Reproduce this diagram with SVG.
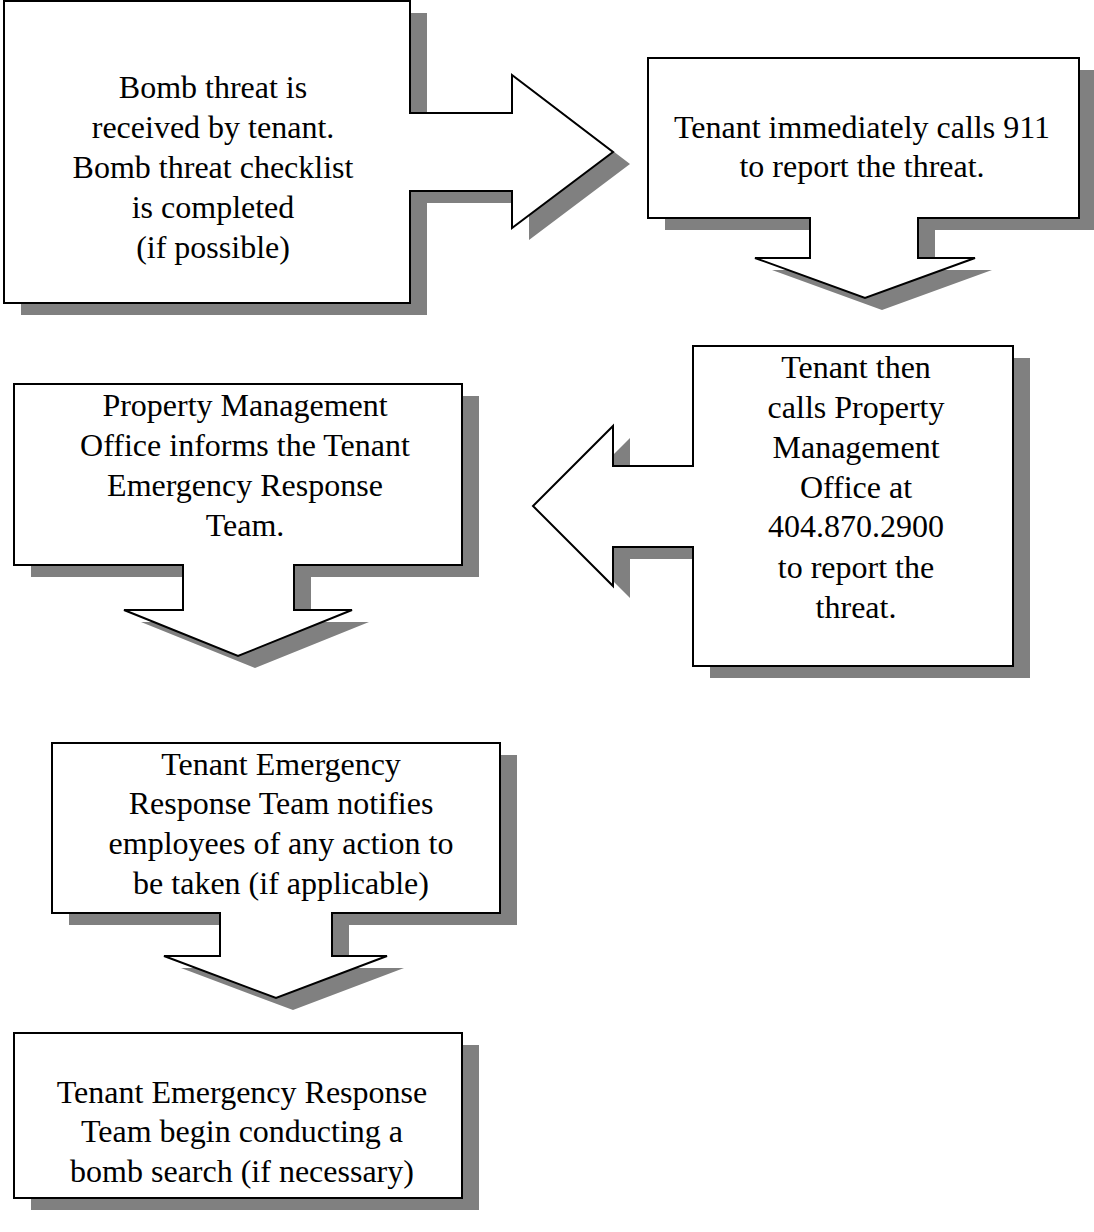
<svg xmlns="http://www.w3.org/2000/svg" width="1094" height="1232" viewBox="0 0 1094 1232">
<style>
.sh{fill:#808080;stroke:none}
.bx{fill:#ffffff;stroke:#000000;stroke-width:2;stroke-linejoin:miter}
.t{font-family:"Liberation Serif","Times New Roman",serif;font-size:32px;fill:#000000;text-anchor:middle}
</style>
<rect width="1094" height="1232" fill="#ffffff"/>
<g id="connectors"></g>
<g id="node1">
<path class="sh" transform="translate(17,12)" d="M4,1 H410 V113 H512 V75 L613,152 L512,228 V191 H410 V303 H4 Z"/>
<path class="bx" d="M4,1 H410 V113 H512 V75 L613,152 L512,228 V191 H410 V303 H4 Z"/>
<text class="t" x="213" y="98">Bomb threat is</text>
<text class="t" x="213" y="138">received by tenant.</text>
<text class="t" x="213" y="178">Bomb threat checklist</text>
<text class="t" x="213" y="218">is completed</text>
<text class="t" x="213" y="258">(if possible)</text>
</g>
<g id="node2">
<path class="sh" transform="translate(17,12)" d="M648,58 H1079 V218 H918 V258 H975 L865,298 L755,258 H810 V218 H648 Z"/>
<path class="bx" d="M648,58 H1079 V218 H918 V258 H975 L865,298 L755,258 H810 V218 H648 Z"/>
<text class="t" x="862" y="138">Tenant immediately calls 911</text>
<text class="t" x="862" y="177">to report the threat.</text>
</g>
<g id="node3">
<path class="sh" transform="translate(17,12)" d="M693,346 H1013 V666 H693 V547 H613 V586 L533,506 L613,426 V466 H693 Z"/>
<path class="bx" d="M693,346 H1013 V666 H693 V547 H613 V586 L533,506 L613,426 V466 H693 Z"/>
<text class="t" x="856" y="378">Tenant then</text>
<text class="t" x="856" y="418">calls Property</text>
<text class="t" x="856" y="458">Management</text>
<text class="t" x="856" y="498">Office at</text>
<text class="t" x="856" y="537">404.870.2900</text>
<text class="t" x="856" y="578">to report the</text>
<text class="t" x="856" y="618">threat.</text>
</g>
<g id="node4">
<path class="sh" transform="translate(17,12)" d="M14,384 H462 V565 H294 V610 H352 L238,656 L124,610 H183 V565 H14 Z"/>
<path class="bx" d="M14,384 H462 V565 H294 V610 H352 L238,656 L124,610 H183 V565 H14 Z"/>
<text class="t" x="245" y="416">Property Management</text>
<text class="t" x="245" y="456">Office informs the Tenant</text>
<text class="t" x="245" y="496">Emergency Response</text>
<text class="t" x="245" y="536">Team.</text>
</g>
<g id="node5">
<path class="sh" transform="translate(17,12)" d="M52,743 H500 V913 H332 V956 H387 L276,998 L164,956 H220 V913 H52 Z"/>
<path class="bx" d="M52,743 H500 V913 H332 V956 H387 L276,998 L164,956 H220 V913 H52 Z"/>
<text class="t" x="281" y="775">Tenant Emergency</text>
<text class="t" x="281" y="814">Response Team notifies</text>
<text class="t" x="281" y="854">employees of any action to</text>
<text class="t" x="281" y="894">be taken (if applicable)</text>
</g>
<g id="node6">
<rect class="sh" x="31" y="1045" width="448" height="165"/>
<rect class="bx" x="14" y="1033" width="448" height="165"/>
<text class="t" x="242" y="1103">Tenant Emergency Response</text>
<text class="t" x="242" y="1142">Team begin conducting a</text>
<text class="t" x="242" y="1182">bomb search (if necessary)</text>
</g>
</svg>
